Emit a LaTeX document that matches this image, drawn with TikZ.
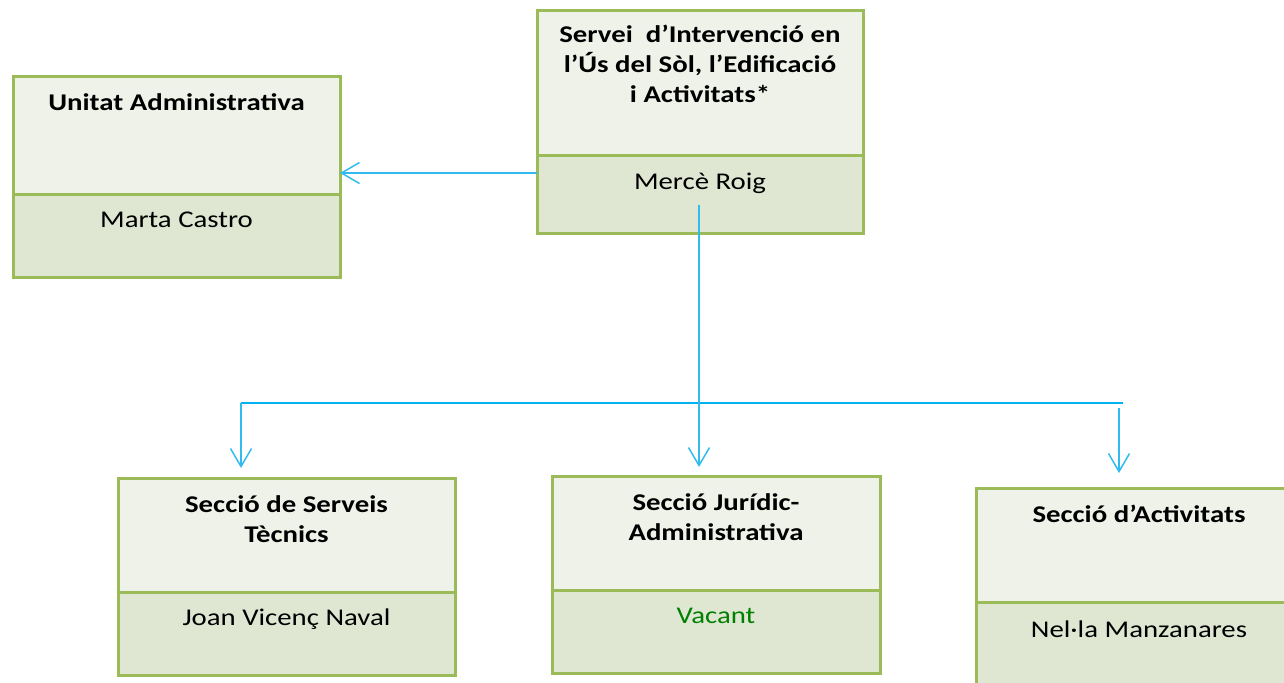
\documentclass[tikz,border=0pt]{standalone}
\usepackage{fontspec}
\setmainfont{Carlito}[FakeStretch=1.2]
\usepackage{xcolor}
\usetikzlibrary{arrows.meta}
\usetikzlibrary{positioning}

\definecolor{vora}{RGB}{155,187,89}
\definecolor{fonsclar}{RGB}{239,242,233}
\definecolor{fonsfosc}{RGB}{223,231,210}
\definecolor{blau}{RGB}{0,176,240}
\definecolor{blauclar}{RGB}{50,188,238}
\definecolor{verdvacant}{RGB}{0,128,0}

\tikzset{
    capsa/.style={rectangle, draw=vora, line width=1.5pt, fill=fonsclar, inner sep=0pt, outer sep=0pt},
    capsanom/.style={capsa, fill=fonsfosc},
    titol/.style={anchor=base, align=center, inner sep=0pt, font=\fontsize{12}{15}\selectfont\bfseries},
    nom/.style={anchor=base, inner sep=0pt, font=\fontsize{12}{15}\selectfont},
    bus/.style={draw=blau, line width=1pt},
    fletxa/.style={draw=blauclar, line width=0.75pt, -{Straight Barb[length=9pt,width=10.5pt]}}
}

\begin{document}
\begin{tikzpicture}[x=0.5pt,y=-0.5pt]
        \clip (0,0) rectangle (1284,682);

        \node[capsa, minimum width=163pt, minimum height=72.5pt, anchor=north west] (servei) at (537,10) {};
        \node[capsanom, minimum width=163pt, minimum height=39pt, below=0pt of servei] (serveiNom) {};
        \node[titol] (serveiTitol) at ([yshift=-46pt]servei.north) {Servei\ \ d’Intervenció en\\l’Ús del Sòl, l’Edificació\\i Activitats*};
        \node[nom] (serveiCap) at ([yshift=-17pt]serveiNom.north) {Mercè Roig};

        \node[capsa, minimum width=163.5pt, minimum height=59pt, anchor=north west] (unitat) at (13,76) {};
        \node[capsanom, minimum width=163.5pt, minimum height=41.5pt, below=0pt of unitat] (unitatNom) {};
        \node[titol] (unitatTitol) at ([yshift=-17pt]unitat.north) {Unitat Administrativa};
        \node[nom] (unitatCap) at ([yshift=-16.5pt]unitatNom.north) {Marta Castro};

        \node[capsa, minimum width=168.5pt, minimum height=57pt, anchor=north west] (tecnics) at (118,478) {};
        \node[capsanom, minimum width=168.5pt, minimum height=41.5pt, below=0pt of tecnics] (tecnicsNom) {};
        \node[titol] (tecnicsTitol) at ([yshift=-32pt]tecnics.north) {Secció de Serveis\\Tècnics};
        \node[nom] (tecnicsCap) at ([yshift=-16.5pt]tecnicsNom.north) {Joan Vicenç Naval};

        \node[capsa, minimum width=164pt, minimum height=57pt, anchor=north west] (juridic) at (552,476) {};
        \node[capsanom, minimum width=164pt, minimum height=41.5pt, below=0pt of juridic] (juridicNom) {};
        \node[titol] (juridicTitol) at ([yshift=-32pt]juridic.north) {Secció Jurídic-\\Administrativa};
        \node[nom, text=verdvacant] (juridicCap) at ([yshift=-16.5pt]juridicNom.north) {Vacant};

        \node[capsa, minimum width=163pt, minimum height=57pt, anchor=north west] (activitats) at (976,488) {};
        \node[capsanom, minimum width=163pt, minimum height=41.5pt, below=0pt of activitats] (activitatsNom) {};
        \node[titol] (activitatsTitol) at ([yshift=-17pt]activitats.north) {Secció d’Activitats};
        \node[nom] (activitatsCap) at ([yshift=-17.5pt]activitatsNom.north) {Nel·la Manzanares};

        \coordinate (nivellUnitat) at (0,173);
        \coordinate (serveiPeu) at (699,205);
        \coordinate (busEsq) at (241,403);
        \coordinate (busDre) at (1123,403);
        \coordinate (activitatsEntrada) at (1119,408);

        \draw[fletxa] (serveiNom.west |- nivellUnitat) -- (unitat.east |- nivellUnitat);
        \draw[bus] (busEsq) -- (busDre);
        \draw[fletxa, shorten >=5pt] (busEsq) -- (busEsq |- tecnics.north);
        \draw[fletxa, shorten >=4.5pt] (serveiPeu) -- (serveiPeu |- juridic.north);
        \draw[fletxa, shorten >=7.5pt] (activitatsEntrada) -- (activitatsEntrada |- activitats.north);
\end{tikzpicture}
\end{document}
